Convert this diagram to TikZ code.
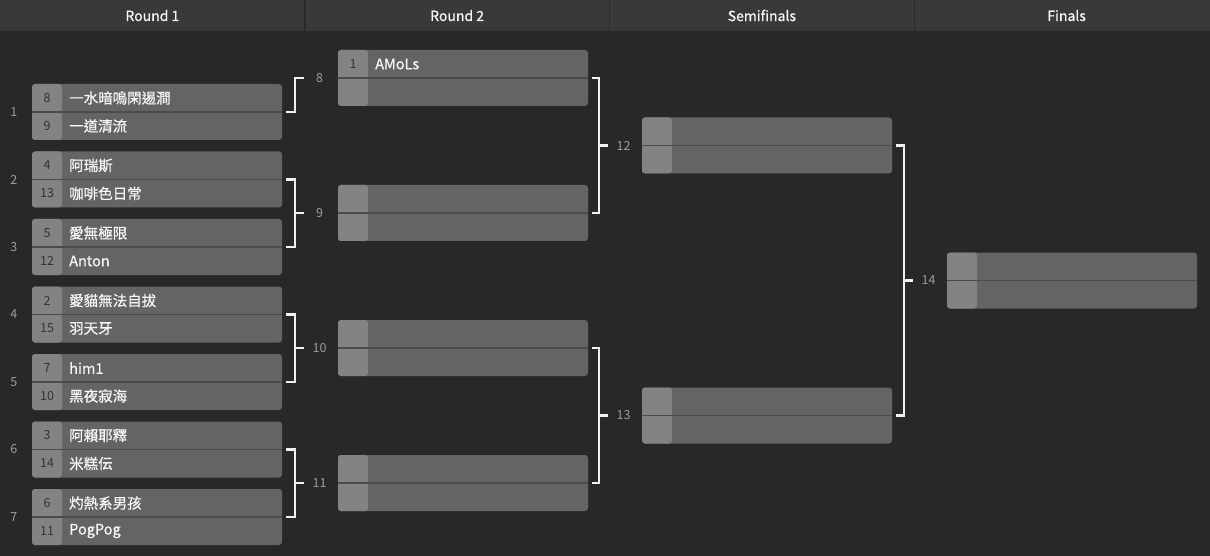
\documentclass[tikz,border=0pt]{standalone}
\usepackage{fontspec}
\setmainfont{Noto Sans CJK TC}
\newfontfamily\namefont[FakeBold=0.6]{Noto Sans CJK TC}
\usetikzlibrary{calc}

\definecolor{bgcol}{HTML}{282828}
\definecolor{headcol}{HTML}{393939}
\definecolor{sepcol}{HTML}{2A2A2A}
\definecolor{namecol}{HTML}{646464}
\definecolor{seedcol}{HTML}{838383}
\definecolor{divcol}{HTML}{4B4B4B}
\definecolor{seedtxt}{HTML}{333333}
\definecolor{nametxt}{HTML}{F7F7F7}
\definecolor{numcol}{HTML}{9C9C9C}
\definecolor{brkcol}{HTML}{F2F2F2}

\tikzset{
  matchbox/.style={
    fill=namecol,
    rounded corners=3pt,
    minimum width=250pt,
    minimum height=56pt,
    inner sep=0pt,
    path picture={
      \fill[seedcol] (path picture bounding box.north west)
        rectangle ([xshift=30pt]path picture bounding box.south west);
      \draw[divcol, line width=1.2pt] (path picture bounding box.west)
        -- (path picture bounding box.east);
    }},
  seedtext/.style={
    text=seedtxt,
    inner sep=0pt,
    font=\fontsize{12.5}{14}\selectfont},
  nametext/.style={
    text=nametxt,
    anchor=west,
    inner sep=0pt,
    font=\namefont\fontsize{14.5}{17}\selectfont},
  numtext/.style={
    text=numcol,
    inner sep=0pt,
    font=\fontsize{12.5}{14}\selectfont},
  headtext/.style={
    text=nametxt,
    inner sep=0pt,
    font=\namefont\fontsize{14}{16}\selectfont},
  bracket/.style={
    draw=brkcol,
    line width=2.2pt},
  pics/match/.style n args={4}{code={
    \node[matchbox] (-box) at (125,28) {};
    \node[seedtext] (-s1) at (15,14) {#1};
    \node[nametext] (-n1) at (37,14) {#2};
    \node[seedtext] (-s2) at (15,42) {#3};
    \node[nametext] (-n2) at (37,42) {#4};
    \coordinate (-out) at (254,28);
    \coordinate (-bar) at (-43,28);
    \coordinate (-tick) at (-34,28);
  }},
}

\begin{document}
\begin{tikzpicture}[x=1pt, y=-1pt]
  \useasboundingbox (0,0) rectangle (1210,556);
  \fill[bgcol] (0,0) rectangle (1210,556);

  % header
  \fill[headcol] (0,0) rectangle (1210,31);
  \foreach \k in {1,2,3}
    \draw[sepcol, line width=1.5pt] ({304.75*\k},0) -- ({304.75*\k},31);
  \foreach \t [count=\k] in {Round 1, Round 2, Semifinals, Finals}
    \node[headtext] (h\k) at ({304.75*(\k-0.5)},15.5) {\t};

  % round 1
  \pic (m1) at (32,84)    {match={8}{一水暗鳴閑逷澗}{9}{一道清流}};
  \pic (m2) at (32,151.5) {match={4}{阿瑞斯}{13}{咖啡色日常}};
  \pic (m3) at (32,219)   {match={5}{愛無極限}{12}{Anton}};
  \pic (m4) at (32,286.5) {match={2}{愛貓無法自拔}{15}{羽天牙}};
  \pic (m5) at (32,354)   {match={7}{him1}{10}{黑夜寂海}};
  \pic (m6) at (32,421.5) {match={3}{阿賴耶釋}{14}{米糕伝}};
  \pic (m7) at (32,489)   {match={6}{灼熱系男孩}{11}{PogPog}};
  \foreach \i in {1,...,7}
    \node[numtext] (n\i) at ([xshift=-18pt]m\i-box.west) {\i};

  % round 2
  \pic (m8)  at (338,50)  {match={1}{AMoLs}{}{}};
  \pic (m9)  at (338,185) {match={}{}{}{}};
  \pic (m10) at (338,320) {match={}{}{}{}};
  \pic (m11) at (338,455) {match={}{}{}{}};

  % semifinals and finals
  \pic (m12) at (642,117.5) {match={}{}{}{}};
  \pic (m13) at (642,387.5) {match={}{}{}{}};
  \pic (m14) at (947,252.5) {match={}{}{}{}};

  % brackets
  \draw[bracket] (m1-out) -| (m8-bar) -- (m8-tick);
  \draw[bracket] (m2-out) -| (m9-bar) |- (m3-out) (m9-bar) -- (m9-tick);
  \draw[bracket] (m4-out) -| (m10-bar) |- (m5-out) (m10-bar) -- (m10-tick);
  \draw[bracket] (m6-out) -| (m11-bar) |- (m7-out) (m11-bar) -- (m11-tick);
  \draw[bracket] (m8-out) -| (m12-bar) |- (m9-out) (m12-bar) -- (m12-tick);
  \draw[bracket] (m10-out) -| (m13-bar) |- (m11-out) (m13-bar) -- (m13-tick);
  \draw[bracket] (m12-out) -| (m14-bar) |- (m13-out) (m14-bar) -- (m14-tick);
  \foreach \j in {8,...,14}
    \node[numtext] (l\j) at ([xshift=15.5pt]m\j-tick) {\j};
\end{tikzpicture}
\end{document}
